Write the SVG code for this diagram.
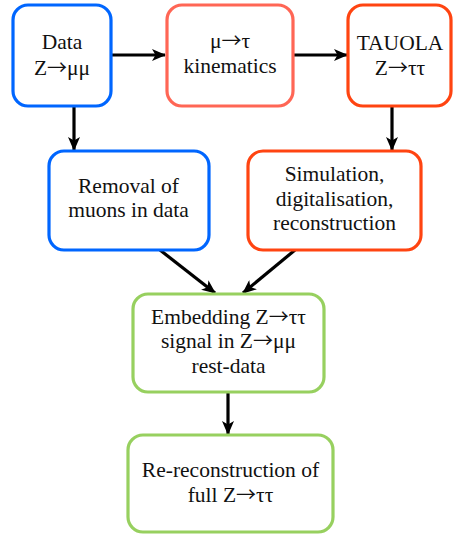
<svg xmlns="http://www.w3.org/2000/svg" width="454" height="535" viewBox="0 0 454 535">
<defs>
<marker id="ah" viewBox="0 0 14 12" refX="13" refY="6" markerWidth="14" markerHeight="12" markerUnits="userSpaceOnUse" orient="auto">
<path d="M0,0 L14,6 L0,12 L3.5,6 Z" fill="#000"/>
</marker>
</defs>
<style>
.box{fill:#fff;stroke-width:3.2}
.t{font-family:"Liberation Serif","Times New Roman",serif;font-size:21.5px;fill:#111;text-anchor:middle}
.a{font-family:"Noto Sans CJK JP","DejaVu Serif",sans-serif;font-size:20px}
.c{stroke:#000;stroke-width:3.2;fill:none;marker-end:url(#ah)}
</style>
<rect width="454" height="535" fill="#fff"/>
<g id="connectors">
<line class="c" x1="111" y1="55" x2="165" y2="55"/>
<line class="c" x1="293" y1="55" x2="347" y2="55"/>
<line class="c" x1="74" y1="106" x2="74" y2="150"/>
<line class="c" x1="392" y1="106" x2="392" y2="150"/>
<line class="c" x1="160" y1="250" x2="215" y2="293"/>
<line class="c" x1="295" y1="250" x2="243" y2="293"/>
<line class="c" x1="228" y1="392" x2="228" y2="434"/>
</g>
<g id="data">
<rect class="box" x="13" y="5" width="98" height="101" rx="15" stroke="#0066ff"/>
<text class="t" x="62" y="49">Data</text>
<text class="t" x="62" y="74.5">Z<tspan class="a">→</tspan>μμ</text>
</g>
<g id="kinematics">
<rect class="box" x="167" y="5" width="126" height="101" rx="15" stroke="#ff6655"/>
<text class="t" x="230" y="48">μ<tspan class="a">→</tspan>τ</text>
<text class="t" x="230" y="73">kinematics</text>
</g>
<g id="tauola">
<rect class="box" x="348" y="5" width="103" height="101" rx="15" stroke="#ff4411"/>
<text class="t" x="400" y="50">TAUOLA</text>
<text class="t" x="400" y="75">Z<tspan class="a">→</tspan>ττ</text>
</g>
<g id="removal">
<rect class="box" x="49" y="151" width="160" height="99" rx="15" stroke="#0066ff"/>
<text class="t" x="128.5" y="192.5">Removal of</text>
<text class="t" x="128.5" y="217">muons in data</text>
</g>
<g id="simulation">
<rect class="box" x="248" y="151" width="173" height="99" rx="15" stroke="#ff4411"/>
<text class="t" x="334.5" y="181">Simulation,</text>
<text class="t" x="334.5" y="205.5">digitalisation,</text>
<text class="t" x="334.5" y="230">reconstruction</text>
</g>
<g id="embedding">
<rect class="box" x="133" y="294" width="191" height="98" rx="15" stroke="#97d05f"/>
<text class="t" x="228.5" y="323.5">Embedding Z<tspan class="a">→</tspan>ττ</text>
<text class="t" x="228.5" y="348">signal in Z<tspan class="a">→</tspan>μμ</text>
<text class="t" x="228.5" y="372.5">rest-data</text>
</g>
<g id="rereco">
<rect class="box" x="128" y="435" width="205" height="97" rx="15" stroke="#97d05f"/>
<text class="t" x="230.5" y="477">Re-reconstruction of</text>
<text class="t" x="230.5" y="502">full Z<tspan class="a">→</tspan>ττ</text>
</g>
</svg>
